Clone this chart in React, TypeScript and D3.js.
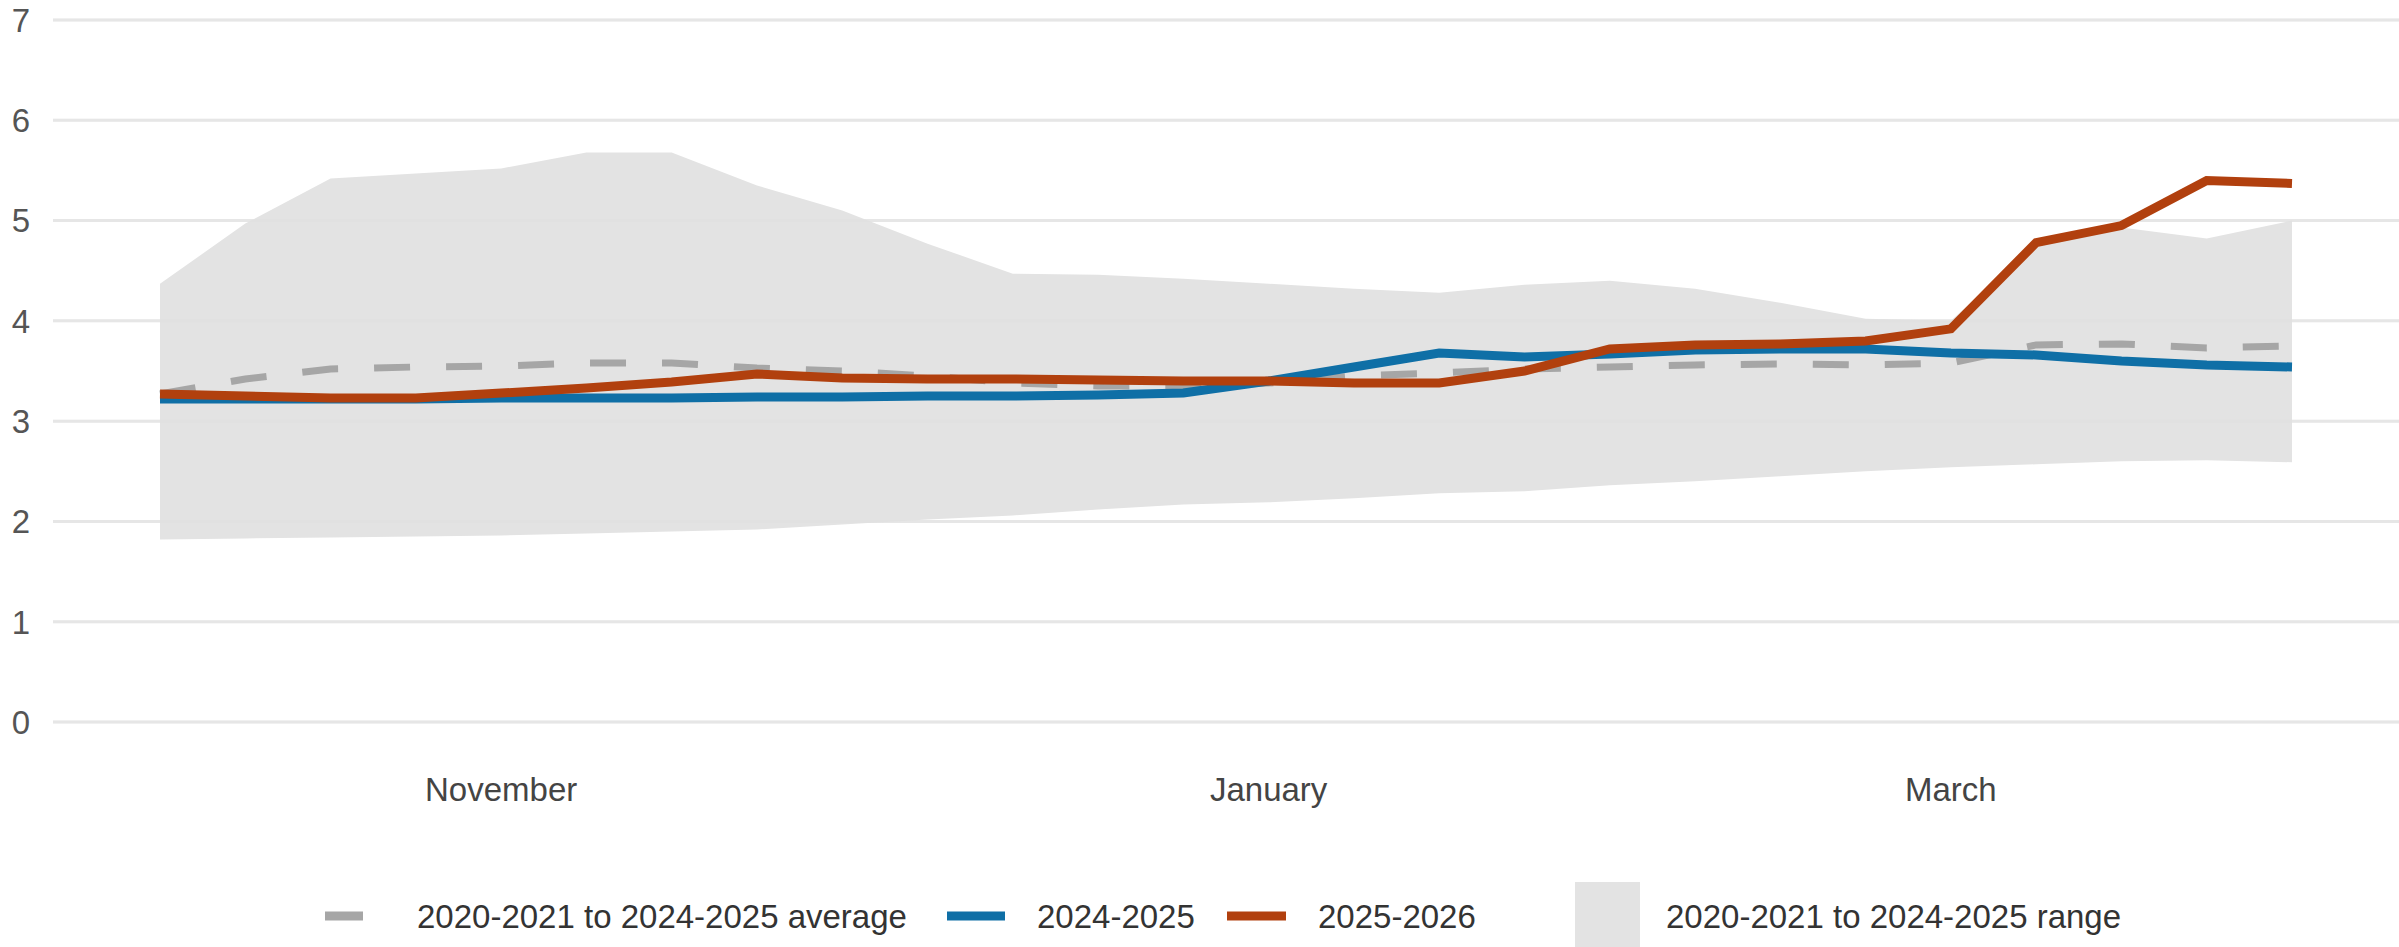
import React from "react";
import * as d3 from "d3";

const weeks = [
  "2025-10-06", "2025-10-13", "2025-10-20", "2025-10-27",
  "2025-11-03", "2025-11-10", "2025-11-17", "2025-11-24",
  "2025-12-01", "2025-12-08", "2025-12-15", "2025-12-22", "2025-12-29",
  "2026-01-05", "2026-01-12", "2026-01-19", "2026-01-26",
  "2026-02-02", "2026-02-09", "2026-02-16", "2026-02-23",
  "2026-03-02", "2026-03-09", "2026-03-16", "2026-03-23", "2026-03-30",
];

const rangeMax = [4.37, 4.97, 5.42, 5.47, 5.52, 5.68, 5.68, 5.35, 5.1, 4.77, 4.47, 4.46, 4.42, 4.37, 4.32, 4.28, 4.36, 4.4, 4.32, 4.18, 4.02, 4.0, 4.77, 4.93, 4.82, 5.0];
const rangeMin = [1.82, 1.83, 1.84, 1.85, 1.86, 1.88, 1.9, 1.92, 1.97, 2.02, 2.06, 2.12, 2.17, 2.19, 2.23, 2.28, 2.3, 2.36, 2.4, 2.45, 2.5, 2.54, 2.57, 2.6, 2.61, 2.59];
const average = [3.27, 3.42, 3.52, 3.54, 3.55, 3.58, 3.58, 3.53, 3.5, 3.45, 3.38, 3.35, 3.35, 3.38, 3.45, 3.48, 3.52, 3.54, 3.56, 3.57, 3.56, 3.58, 3.76, 3.77, 3.73, 3.75];
const season2425 = [3.22, 3.22, 3.22, 3.22, 3.23, 3.23, 3.23, 3.24, 3.24, 3.25, 3.25, 3.26, 3.28, 3.4, 3.54, 3.68, 3.64, 3.67, 3.71, 3.72, 3.72, 3.68, 3.66, 3.6, 3.56, 3.54];
const season2526 = [3.27, 3.25, 3.23, 3.23, 3.28, 3.33, 3.39, 3.47, 3.43, 3.42, 3.42, 3.41, 3.4, 3.4, 3.38, 3.38, 3.5, 3.72, 3.76, 3.77, 3.8, 3.92, 4.78, 4.95, 5.4, 5.37];

const yTicks = [0, 1, 2, 3, 4, 5, 6, 7];
const monthTicks = [
  { week: "2025-11-03", label: "November" },
  { week: "2026-01-05", label: "January" },
  { week: "2026-03-02", label: "March" },
];

const legendLabels = {
  average: "2020-2021 to 2024-2025 average",
  s2425: "2024-2025",
  s2526: "2025-2026",
  range: "2020-2021 to 2024-2025 range",
};

const W = 2399;
const H = 947;
const FONT = "'Liberation Sans', Arial, sans-serif";
const C_BLUE = "#0F6FA6";
const C_ORANGE = "#B1400E";
const C_AVG = "#A6A6A6";
const C_BAND = "#E3E3E3";
const C_GRID = "#EBEBEB";

export default function App() {
  const x = d3.scalePoint<string>().domain(weeks).range([160, 2292]).padding(0);
  const y = d3.scaleLinear().domain([0, 7]).range([722, 20]);

  const idx = weeks.map((_, i) => i);
  const area = d3
    .area<number>()
    .x((i) => x(weeks[i]) as number)
    .y0((i) => y(rangeMin[i]))
    .y1((i) => y(rangeMax[i]));
  const lineOf = (vals: number[]) =>
    d3
      .line<number>()
      .x((i) => x(weeks[i]) as number)
      .y((i) => y(vals[i]))(idx) as string;

  return (
    <svg
      width={W}
      height={H}
      style={{ position: "absolute", left: 0, top: 0, background: "#fff" }}
      fontFamily={FONT}
    >
      <rect x={0} y={0} width={W} height={H} fill="#fff" />
      {yTicks.map((t) => (
        <g key={t}>
          <line x1={53} x2={W} y1={y(t)} y2={y(t)} stroke={C_GRID} strokeWidth={3} />
          <text x={21} y={y(t)} dy="0.36em" textAnchor="middle" fontSize={33} fill="#555">
            {t}
          </text>
        </g>
      ))}
      <path d={area(idx) as string} fill={C_BAND} />
      {yTicks.map((t) => (
        <line key={"g" + t} x1={53} x2={W} y1={y(t)} y2={y(t)} stroke="#DDDDDD" strokeOpacity={0.35} strokeWidth={3} />
      ))}
      <path
        d={lineOf(average)}
        fill="none"
        stroke={C_AVG}
        strokeWidth={7}
        strokeDasharray="36 36"
      />
      <path d={lineOf(season2425)} fill="none" stroke={C_BLUE} strokeWidth={9} strokeLinejoin="miter" />
      <path d={lineOf(season2526)} fill="none" stroke={C_ORANGE} strokeWidth={9} strokeLinejoin="miter" />

      {monthTicks.map((m) => (
        <text key={m.label} x={x(m.week)} y={801} textAnchor="middle" fontSize={33} fill="#444">
          {m.label}
        </text>
      ))}

      <g fontSize={33} fill="#333">
        <line x1={325} x2={363} y1={916} y2={916} stroke={C_AVG} strokeWidth={9} />
        <text x={417} y={928}>{legendLabels.average}</text>
        <line x1={947} x2={1005} y1={916} y2={916} stroke={C_BLUE} strokeWidth={9} />
        <text x={1037} y={928}>{legendLabels.s2425}</text>
        <line x1={1227} x2={1286} y1={916} y2={916} stroke={C_ORANGE} strokeWidth={9} />
        <text x={1318} y={928}>{legendLabels.s2526}</text>
        <rect x={1575} y={882} width={65} height={65} fill={C_BAND} />
        <text x={1666} y={928}>{legendLabels.range}</text>
      </g>
    </svg>
  );
}
